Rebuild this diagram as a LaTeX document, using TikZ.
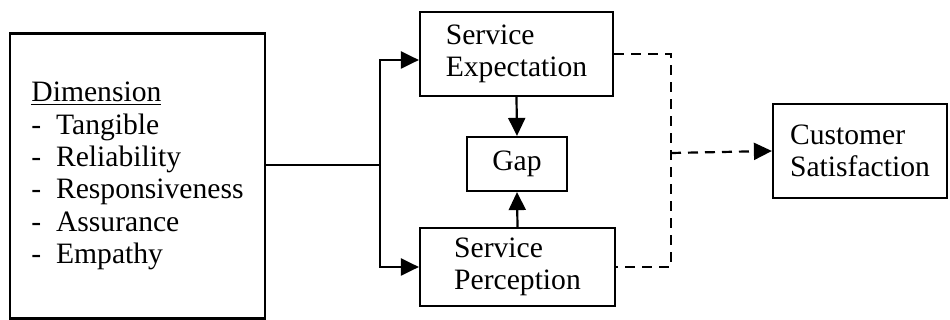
\documentclass[tikz,border=0pt]{standalone}
\usepackage{fontspec}
\setmainfont{Liberation Serif}
\usetikzlibrary{arrows.meta}

\newcommand{\dimitem}[1]{-\hspace{0.5em}#1}

\tikzset{
    block/.style={draw, line width=1.1pt, align=left, inner sep=0pt,
        font=\fontsize{14.8}{16.2}\selectfont},
    flow/.style={line width=1.1pt, -{Triangle[length=9pt, width=8.5pt]}},
    link/.style={line width=1.1pt, dash pattern=on 5pt off 3.5pt}
}

\begin{document}
\begin{tikzpicture}[x=0.5pt, y=-0.5pt]
    \useasboundingbox (0,0) rectangle (950,320);

    \node[block, minimum width=127.5pt, minimum height=142.5pt] (dim) at (137.5,176)
        {\underline{Dimension}\\ \dimitem{Tangible}\\ \dimitem{Reliability}\\
         \dimitem{Responsiveness}\\ \dimitem{Assurance}\\ \dimitem{Empathy}};
    \node[block, minimum width=96.5pt, minimum height=42pt] (se) at (516.5,54)
        {Service\\ Expectation};
    \node[block, minimum width=50pt, minimum height=27pt] (gap) at (517,164) {Gap};
    \node[block, minimum width=97.5pt, minimum height=39pt] (sp) at (517.5,267)
        {Service\\ Perception};
    \node[block, minimum width=87pt, minimum height=47pt] (cs) at (860,151)
        {Customer\\ Satisfaction};

    \coordinate (split) at (380,165);
    \coordinate (merge) at (671,153);

    % dimension -> expectation / perception
    \draw[line width=1.1pt] (dim.east |- split) -- (split);
    \draw[flow] (split) |- ([yshift=-3pt]se.west);
    \draw[flow] (split) |- (sp.west);

    % gap
    \draw[flow] (se.south) -- (gap.north);
    \draw[flow] (sp.north) -- (gap.south);

    % satisfaction
    \draw[link] (se.east) -| (merge) |- (sp.east);
    \draw[link, -{Triangle[length=9pt, width=8.5pt]}] (merge) -- (cs.west);
\end{tikzpicture}
\end{document}
